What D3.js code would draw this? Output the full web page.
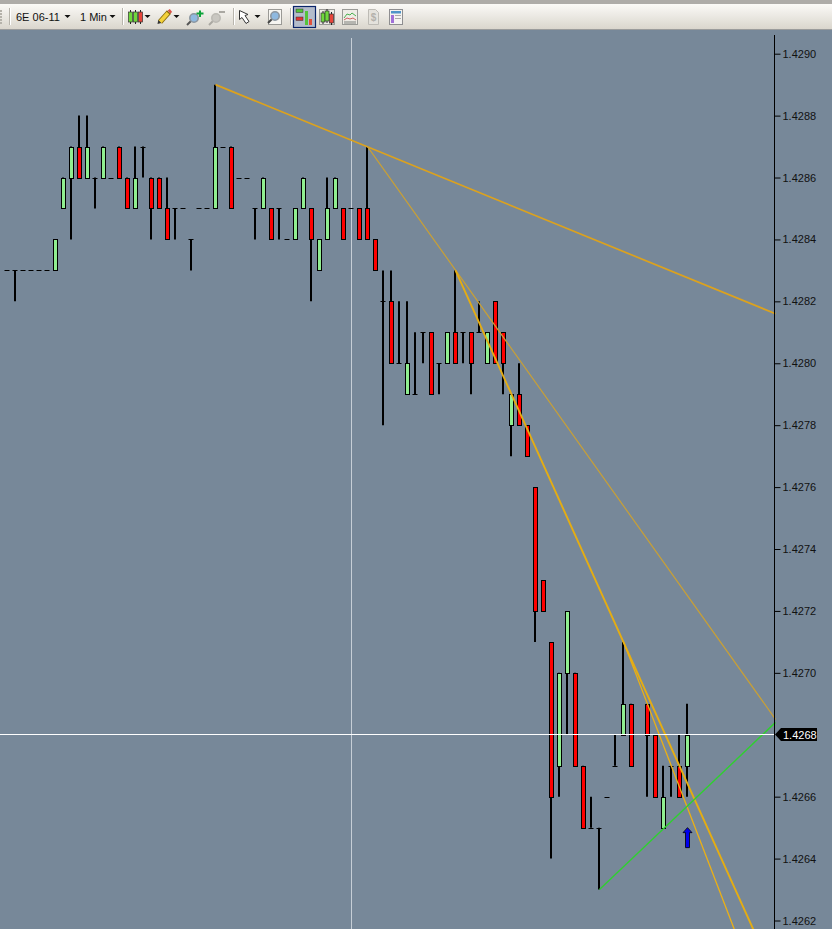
<!DOCTYPE html>
<html>
<head>
<meta charset="utf-8">
<script src="https://cdnjs.cloudflare.com/ajax/libs/d3/7.8.5/d3.min.js"></script>
<style>
  html, body { margin: 0; padding: 0; background: #778899; overflow: hidden; }
  svg { display: block; }
  text { font-family: "Liberation Sans", Arial, sans-serif; }
</style>
</head>
<body>
<div id="chart"></div>
<script>
// one entry per minute, null where no bar printed
var opens = [
  1.4283, 1.4283, 1.4283, 1.4283, 1.4283, 1.4283, 1.4283, 1.4285, 1.4286, 1.4287,
  1.4286, 1.4286, 1.4286, 1.4286, 1.4287, 1.4286, 1.4285, 1.4287, 1.4286, 1.4286,
  1.4285, 1.4285, 1.4285, 1.4284, 1.4285, 1.4285, 1.4285, 1.4287, 1.4287, 1.4286,
  1.4286, 1.4285, 1.4285, 1.4285, 1.4285, 1.4284, 1.4284, 1.4285, 1.4285, 1.4283,
  1.4284, 1.4285, 1.4285, 1.4285, 1.4285, 1.4285, 1.4284, 1.4282, 1.4282, 1.4280,
  1.4279, 1.4279, 1.4281, 1.4281, 1.4280, 1.4280, 1.4281, 1.4281, 1.4281, 1.4281,
  1.4280, 1.4282, 1.4281, 1.4278, 1.4279, 1.4278, 1.4276, 1.4273, 1.4271, 1.4267,
  1.4270, 1.4270, 1.4267, 1.4265, 1.4265, 1.4266, 1.4267, 1.4268, 1.4269, null,
  1.4269, 1.4268, 1.4265, 1.4267, 1.4267, 1.4267
]
var highs = [
  1.4283, 1.4283, 1.4283, 1.4283, 1.4283, 1.4283, 1.4284, 1.4286, 1.4287, 1.4288,
  1.4288, 1.4286, 1.4287, 1.4286, 1.4287, 1.4286, 1.4287, 1.4287, 1.4286, 1.4286,
  1.4286, 1.4285, 1.4285, 1.4284, 1.4285, 1.4285, 1.4289, 1.4287, 1.4287, 1.4286,
  1.4286, 1.4285, 1.4286, 1.4285, 1.4285, 1.4284, 1.4285, 1.4286, 1.4285, 1.4284,
  1.4286, 1.4286, 1.4285, 1.4285, 1.4285, 1.4287, 1.4284, 1.4283, 1.4283, 1.4282,
  1.4282, 1.4281, 1.4281, 1.4281, 1.4280, 1.4281, 1.4283, 1.4281, 1.4281, 1.4282,
  1.4281, 1.4282, 1.4281, 1.4279, 1.4280, 1.4278, 1.4276, 1.4273, 1.4271, 1.4270,
  1.4272, 1.4270, 1.4267, 1.4266, 1.4265, 1.4266, 1.4268, 1.4271, 1.4269, null,
  1.4269, 1.4268, 1.4267, 1.4267, 1.4268, 1.4269
]
var lows = [
  1.4283, 1.4282, 1.4283, 1.4283, 1.4283, 1.4283, 1.4283, 1.4285, 1.4284, 1.4286,
  1.4286, 1.4285, 1.4286, 1.4286, 1.4286, 1.4285, 1.4285, 1.4286, 1.4284, 1.4285,
  1.4284, 1.4284, 1.4285, 1.4283, 1.4285, 1.4285, 1.4285, 1.4287, 1.4285, 1.4286,
  1.4286, 1.4284, 1.4285, 1.4284, 1.4284, 1.4284, 1.4284, 1.4285, 1.4282, 1.4283,
  1.4284, 1.4285, 1.4284, 1.4285, 1.4284, 1.4284, 1.4283, 1.4278, 1.4280, 1.4280,
  1.4279, 1.4279, 1.4280, 1.4279, 1.4279, 1.4280, 1.4280, 1.4280, 1.4279, 1.4281,
  1.4280, 1.4280, 1.4279, 1.4277, 1.4278, 1.4277, 1.4271, 1.4272, 1.4264, 1.4266,
  1.4268, 1.4267, 1.4265, 1.4265, 1.4263, 1.4266, 1.4267, 1.4268, 1.4267, null,
  1.4266, 1.4266, 1.4265, 1.4266, 1.4266, 1.4266
]
var closes = [
  1.4283, 1.4283, 1.4283, 1.4283, 1.4283, 1.4283, 1.4284, 1.4286, 1.4287, 1.4286,
  1.4287, 1.4286, 1.4287, 1.4286, 1.4286, 1.4285, 1.4286, 1.4287, 1.4285, 1.4285,
  1.4284, 1.4285, 1.4285, 1.4284, 1.4285, 1.4285, 1.4287, 1.4287, 1.4285, 1.4286,
  1.4286, 1.4285, 1.4286, 1.4284, 1.4285, 1.4284, 1.4285, 1.4286, 1.4284, 1.4284,
  1.4285, 1.4286, 1.4284, 1.4285, 1.4284, 1.4284, 1.4283, 1.4282, 1.4280, 1.4280,
  1.4280, 1.4279, 1.4281, 1.4279, 1.4280, 1.4281, 1.4280, 1.4281, 1.4280, 1.4281,
  1.4281, 1.4280, 1.4280, 1.4279, 1.4278, 1.4277, 1.4272, 1.4272, 1.4266, 1.4270,
  1.4272, 1.4267, 1.4265, 1.4265, 1.4265, 1.4266, 1.4267, 1.4269, 1.4267, null,
  1.4268, 1.4266, 1.4266, 1.4267, 1.4266, 1.4268
]

var priceTicks = [1.4290, 1.4288, 1.4286, 1.4284, 1.4282, 1.4280, 1.4278, 1.4276, 1.4274, 1.4272, 1.4270, 1.4266, 1.4264, 1.4262]
var lastPrice = 1.4268
var cursorBar = 43
var arrowBar = 85
var arrowPrice = 1.4265

// from bar, from price, to bar, to price
var trendFrom = [[26, 1.4289], [45, 1.4287], [56, 1.4283], [77, 1.4271], [74, 1.4263]]
var trendTo = [[96, 1.42816], [96, 1.42685], [93.25, 1.42617], [90.875, 1.42617], [96, 1.42684]]
var trendColors = ['#dca21e', '#c9a035', '#e5ad12', '#ecb015', '#2fd02f']
var trendWidths = [1.7, 1.2, 1.9, 1.3, 1.4]

var toolbarLabels = ['6E 06-11', '1 Min']

var width = 832
var height = 929
var axisX = 774.5

var xScale = d3.scaleLinear().domain([0, 96]).range([7.5, 775.5])
var yScale = d3.scaleLinear().domain([1.4262, 1.4290]).range([920.5, 53.7])

var svg = d3.select('#chart').append('svg')
  .attr('width', width)
  .attr('height', height)

svg.append('rect')
  .attr('width', width)
  .attr('height', height)
  .attr('fill', '#778899')

// toolbar
var defs = svg.append('defs')
var grad = defs.append('linearGradient')
  .attr('id', 'bar-grad')
  .attr('x1', 0).attr('x2', 0).attr('y1', 0).attr('y2', 1)
grad.append('stop').attr('offset', 0).attr('stop-color', '#fbfaf7')
grad.append('stop').attr('offset', 1).attr('stop-color', '#dad6cd')

var tb = svg.append('g').attr('class', 'toolbar')
tb.append('rect').attr('width', width).attr('height', 4).attr('fill', '#aeaca8')
tb.append('rect').attr('y', 4).attr('width', width).attr('height', 25).attr('fill', 'url(#bar-grad)')
tb.append('rect').attr('y', 29).attr('width', width).attr('height', 1).attr('fill', '#9b9c9c')

d3.range(10, 24, 3).forEach(function(y) {
  tb.append('rect').attr('x', 0).attr('y', y).attr('width', 2).attr('height', 2).attr('fill', '#b5b2aa')
})
;[9, 122, 233, 290].forEach(function(x) {
  tb.append('rect').attr('x', x).attr('y', 8).attr('width', 1).attr('height', 17).attr('fill', '#b8b5ad')
  tb.append('rect').attr('x', x + 1).attr('y', 8).attr('width', 1).attr('height', 17).attr('fill', '#ffffff')
})
;[67.5, 112.5, 147.5, 176.5, 257.5].forEach(function(x) {
  tb.append('path').attr('d', `M${x - 3},15 h6 l-3,3 z`).attr('fill', '#111')
})
tb.append('text').attr('x', 16).attr('y', 21).attr('font-size', 11).attr('fill', '#111').text(toolbarLabels[0])
tb.append('text').attr('x', 80).attr('y', 21).attr('font-size', 11).attr('fill', '#111').text(toolbarLabels[1])

function icoCandle(g, x, y0, y1, color) {
  g.append('line').attr('x1', x).attr('x2', x).attr('y1', y0 - 2).attr('y2', y1 + 2).attr('stroke', '#222')
  g.append('rect').attr('x', x - 2).attr('y', y0).attr('width', 4).attr('height', y1 - y0)
    .attr('fill', color).attr('stroke', '#333').attr('stroke-width', 0.7)
}
icoCandle(tb, 130.5, 12, 22, '#6fd83c')
icoCandle(tb, 135.5, 12, 22, '#6fd83c')
icoCandle(tb, 140.5, 12, 22, '#e8453a')

// pencil
tb.append('line').attr('x1', 160).attr('y1', 22).attr('x2', 169).attr('y2', 12)
  .attr('stroke', '#8a6d10').attr('stroke-width', 5.5)
tb.append('line').attr('x1', 160).attr('y1', 22).attr('x2', 168).attr('y2', 13)
  .attr('stroke', '#f4d23c').attr('stroke-width', 3.6)
tb.append('line').attr('x1', 169).attr('y1', 12).attr('x2', 171).attr('y2', 10.5)
  .attr('stroke', '#d9534a').attr('stroke-width', 4)
tb.append('path').attr('d', 'M157.5,24 l0.8,-4 l3,3 z').attr('fill', '#333')

function icoGlass(g, cx, cy, ring, fill, handle) {
  g.append('line').attr('x1', cx - 3).attr('y1', cy + 3).attr('x2', cx - 7).attr('y2', cy + 7)
    .attr('stroke', handle).attr('stroke-width', 2)
  g.append('circle').attr('cx', cx).attr('cy', cy).attr('r', 4.2)
    .attr('fill', fill).attr('stroke', ring).attr('stroke-width', 1.6)
}
icoGlass(tb, 194, 18, '#8c96a0', '#8fb9e0', '#555')
tb.append('path').attr('d', 'M199,10.5 h2 v2 h2.5 v2 h-2.5 v2.5 h-2 v-2.5 h-2.5 v-2 h2.5 z').attr('fill', '#0da33a')
icoGlass(tb, 216, 18, '#bcbab4', '#c9c7c1', '#aaa8a2')
tb.append('rect').attr('x', 219).attr('y', 11).attr('width', 6).attr('height', 2).attr('fill', '#aaa8a2')

// cursor
tb.append('path').attr('d', 'M239.5,10.5 l0,9 l2.5,-2 l4,6 l3,-2 l-4,-6 l3,-1 z')
  .attr('fill', '#fff').attr('stroke', '#333').attr('stroke-width', 1)

// page zoom
tb.append('rect').attr('x', 268.5).attr('y', 9.5).attr('width', 13).attr('height', 15)
  .attr('fill', '#f6f5f1').attr('stroke', '#9a9a96')
icoGlass(tb, 275, 16, '#8c96a0', '#8fb9e0', '#444')

// selected bar chart button
tb.append('rect').attr('x', 293.5).attr('y', 6.5).attr('width', 22).attr('height', 21)
  .attr('fill', '#b4bccb').attr('stroke', '#0a246a').attr('stroke-width', 1.2)
tb.append('rect').attr('x', 296).attr('y', 9).attr('width', 7).attr('height', 3.5).attr('fill', '#55c43a').attr('stroke', '#333').attr('stroke-width', 0.5)
tb.append('rect').attr('x', 296).attr('y', 17).attr('width', 7).attr('height', 3.5).attr('fill', '#e03434').attr('stroke', '#333').attr('stroke-width', 0.5)
tb.append('rect').attr('x', 305).attr('y', 11).attr('width', 3).attr('height', 14).attr('fill', '#55c43a')
tb.append('rect').attr('x', 309).attr('y', 19).attr('width', 3).attr('height', 6).attr('fill', '#e0503c')

// candle button
tb.append('rect').attr('x', 319.5).attr('y', 9.5).attr('width', 15).attr('height', 15)
  .attr('fill', '#eeece6').attr('stroke', '#9a9a96')
icoCandle(tb, 323, 13, 22, '#6fd83c')
icoCandle(tb, 327, 11, 21, '#6fd83c')
icoCandle(tb, 331.5, 14, 23, '#e8453a')

// line chart button
tb.append('rect').attr('x', 342.5).attr('y', 9.5).attr('width', 15).attr('height', 15)
  .attr('fill', '#eeece6').attr('stroke', '#9a9a96')
tb.append('path').attr('d', 'M344,18 l3,-4 l3,1 l2,-2 l4,3').attr('fill', 'none').attr('stroke', '#4cb050')
tb.append('path').attr('d', 'M344,20 l3,-2 l3,1 l3,-1 l3,2').attr('fill', 'none').attr('stroke', '#d06060')
tb.append('rect').attr('x', 344).attr('y', 21).attr('width', 12).attr('height', 3).attr('fill', '#b5b5b0')

// greyed dollar page
tb.append('path').attr('d', 'M368.5,9.5 h7 l3,3 v12 h-10 z').attr('fill', '#e4e2dc').attr('stroke', '#bdbbb5')
tb.append('text').attr('x', 373.5).attr('y', 21).attr('text-anchor', 'middle')
  .attr('font-size', 10).attr('font-weight', 'bold').attr('fill', '#b3b1ab').text('$')

// table button
tb.append('rect').attr('x', 389.5).attr('y', 9.5).attr('width', 13).attr('height', 15)
  .attr('fill', '#f4f3f0').attr('stroke', '#8e8e90')
tb.append('rect').attr('x', 391).attr('y', 11).attr('width', 10).attr('height', 2.5).attr('fill', '#4f95c8')
tb.append('rect').attr('x', 391).attr('y', 15).attr('width', 3).attr('height', 8).attr('fill', '#a070d8')
tb.append('rect').attr('x', 395).attr('y', 15).attr('width', 6).attr('height', 1).attr('fill', '#aaa')
tb.append('rect').attr('x', 395).attr('y', 18).attr('width', 6).attr('height', 1).attr('fill', '#aaa')

// crosshair
svg.append('line')
  .attr('x1', Math.floor(xScale(cursorBar)) + 0.5)
  .attr('x2', Math.floor(xScale(cursorBar)) + 0.5)
  .attr('y1', 38)
  .attr('y2', height)
  .attr('stroke', '#c6ced6')
  .attr('stroke-width', 1)

// bars
var bars = opens.map(function(o, i) {
  return { i: i, open: o, high: highs[i], low: lows[i], close: closes[i] }
}).filter(function(d) { return d.open !== null })

var plot = svg.append('g').attr('class', 'bars')

plot.selectAll('line.wick')
  .data(bars.filter(function(d) { return d.high !== d.low }))
  .enter().append('line')
  .attr('class', 'wick')
  .attr('x1', function(d) { return Math.floor(xScale(d.i)) })
  .attr('x2', function(d) { return Math.floor(xScale(d.i)) })
  .attr('y1', function(d) { return yScale(d.high) })
  .attr('y2', function(d) { return yScale(d.low) })
  .attr('stroke', '#000')
  .attr('stroke-width', 2)

plot.selectAll('line.doji')
  .data(bars.filter(function(d) { return d.open === d.close }))
  .enter().append('line')
  .attr('class', 'doji')
  .attr('x1', function(d) { return Math.floor(xScale(d.i)) - 2.5 })
  .attr('x2', function(d) { return Math.floor(xScale(d.i)) + 2.5 })
  .attr('y1', function(d) { return Math.round(yScale(d.open)) + 0.5 })
  .attr('y2', function(d) { return Math.round(yScale(d.open)) + 0.5 })
  .attr('stroke', '#000')
  .attr('stroke-width', 1)

plot.selectAll('rect.body')
  .data(bars.filter(function(d) { return d.open !== d.close }))
  .enter().append('rect')
  .attr('class', 'body')
  .attr('x', function(d) { return Math.floor(xScale(d.i)) - 1.5 })
  .attr('y', function(d) { return Math.round(yScale(Math.max(d.open, d.close))) + 0.5 })
  .attr('width', 4)
  .attr('height', function(d) { return Math.round(yScale(Math.min(d.open, d.close))) - Math.round(yScale(Math.max(d.open, d.close))) })
  .attr('fill', function(d) { return d.close > d.open ? '#90ee90' : '#ff0000' })
  .attr('stroke', '#000')
  .attr('stroke-width', 1)

// trend lines
svg.append('g').attr('class', 'trends')
  .selectAll('line')
  .data(trendFrom)
  .enter().append('line')
  .attr('x1', function(d) { return xScale(d[0]) })
  .attr('y1', function(d) { return yScale(d[1]) })
  .attr('x2', function(d, i) { return xScale(trendTo[i][0]) })
  .attr('y2', function(d, i) { return yScale(trendTo[i][1]) })
  .attr('stroke', function(d, i) { return trendColors[i] })
  .attr('stroke-width', function(d, i) { return trendWidths[i] })

// last price line
svg.append('line')
  .attr('x1', 0)
  .attr('x2', axisX)
  .attr('y1', Math.floor(yScale(lastPrice)) + 0.5)
  .attr('y2', Math.floor(yScale(lastPrice)) + 0.5)
  .attr('stroke', '#fff')
  .attr('stroke-width', 1)

// entry arrow
var ax = Math.floor(xScale(arrowBar))
var ay = yScale(arrowPrice)
svg.append('path')
  .attr('d', `M${ax + 0.5},${ay} l4.5,5 h-2.5 v15 h-4 v-15 h-2.5 z`)
  .attr('fill', '#0000ee')
  .attr('stroke', '#000')
  .attr('stroke-width', 0.8)

// price axis
var yAxis = d3.axisRight(yScale)
  .tickValues(priceTicks)
  .tickSize(6)
  .tickPadding(2)
  .tickFormat(d3.format('.4f'))

var axisG = svg.append('g')
  .attr('transform', `translate(${axisX},0)`)
  .call(yAxis)
axisG.select('.domain').remove()
axisG.selectAll('.tick line').attr('stroke', '#000')
axisG.selectAll('.tick text')
  .attr('font-family', '"Liberation Sans", Arial, sans-serif')
  .attr('font-size', 11)
  .attr('fill', '#111')

svg.append('line')
  .attr('x1', axisX)
  .attr('x2', axisX)
  .attr('y1', 35)
  .attr('y2', height)
  .attr('stroke', '#000')
  .attr('stroke-width', 1)

// last price tag
var tagY = Math.floor(yScale(lastPrice)) + 0.5
svg.append('path')
  .attr('d', `M775,${tagY} l6,-6.5 h36 v13 h-36 z`)
  .attr('fill', '#000')
svg.append('text')
  .attr('x', 783)
  .attr('y', tagY + 4)
  .attr('font-size', 11)
  .attr('fill', '#fff')
  .text(d3.format('.4f')(lastPrice))
</script>
</body>
</html>
